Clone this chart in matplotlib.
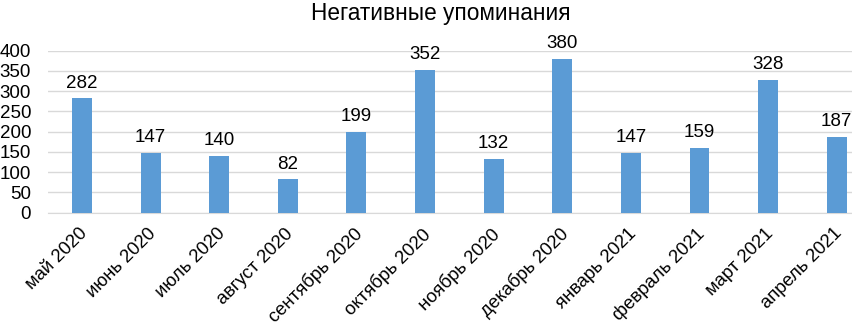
import matplotlib
matplotlib.use("Agg")
import matplotlib.pyplot as plt
import matplotlib.transforms as mtransforms

categories = ["май 2020", "июнь 2020", "июль 2020", "август 2020", "сентябрь 2020",
              "октябрь 2020", "ноябрь 2020", "декабрь 2020", "январь 2021",
              "февраль 2021", "март 2021", "апрель 2021"]
values = [282, 147, 140, 82, 199, 352, 132, 380, 147, 159, 328, 187]
yticks = [0, 50, 100, 150, 200, 250, 300, 350, 400]
title = "Негативные упоминания"

plt.rcParams['font.family'] = ['Liberation Sans', 'DejaVu Sans']

fig = plt.figure(figsize=(8.52, 3.25), dpi=100)
W, H = 852, 325
left, right = 47.7, 871.0
bottom_px, top_px = 212.7, 50.7
ax = fig.add_axes([left / W, 1 - bottom_px / H, (right - left) / W, (bottom_px - top_px) / H])

x = list(range(len(categories)))
bars = ax.bar(x, values, width=0.29, color="#5B9BD5", zorder=3)
for xi, v in zip(x, values):
    ax.annotate(str(v), (xi, v), xytext=(0, 5), textcoords="offset points",
                ha="center", va="bottom", fontsize=13.5, color="#000000")

ax.set_xlim(-0.5, len(categories) - 0.5)
ax.set_ylim(0, 400)
ax.set_yticks(yticks)
ax.set_yticklabels([str(t) for t in yticks], fontsize=13.5)
ax.set_xticks(x)
ax.set_xticklabels(categories, fontsize=13.3, rotation=45, ha="right", rotation_mode="anchor")
ax.tick_params(axis="both", length=0)
ax.tick_params(axis="y", pad=12)
ax.tick_params(axis="x", pad=6)
offset = mtransforms.ScaledTranslation(-3 / 100, -4 / 100, fig.dpi_scale_trans)
for lbl in ax.get_xticklabels():
    lbl.set_transform(lbl.get_transform() + offset)
ax.grid(axis="y", color="#D9D9D9", linewidth=1, zorder=0)
for s in ["top", "right", "left"]:
    ax.spines[s].set_visible(False)
ax.spines["bottom"].set_color("#D9D9D9")

fig.text(441 / W, 1 - 2 / H, title, ha="center", va="top", fontsize=16.3)

fig.savefig("out.png", dpi=100)
